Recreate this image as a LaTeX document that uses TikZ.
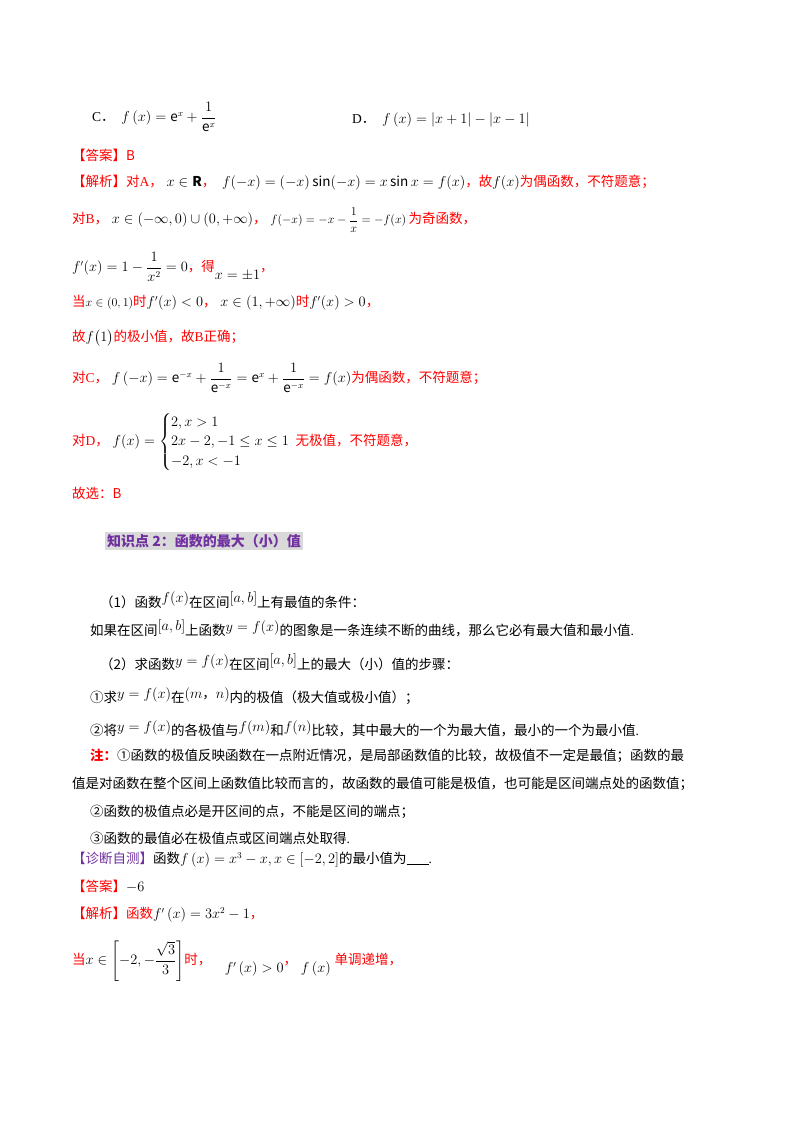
\documentclass[tikz,border=0pt]{standalone}
\usepackage{amsmath,amssymb}
\usepackage{fontspec}
\setmainfont{Noto Sans CJK SC}
\newfontfamily\lat{Liberation Serif}
\definecolor{rd}{HTML}{FF0000}
\definecolor{pp}{HTML}{7030A0}
\definecolor{hb}{HTML}{D9D9D9}
\newcommand{\sm}{\fontsize{12}{14}\selectfont}
\begin{document}
\begin{tikzpicture}[x=1pt,y=-1pt,
  t/.style={anchor=west,inner sep=0pt,font=\fontsize{13.5}{16}\selectfont},
  r/.style={t,text=rd}]
\useasboundingbox[fill=white] (0,0) rectangle (800,1132);
\node[t] (c) at (92,117) {{\lat C}．\; $f\left(x\right)=\mathrm{e}^{x}+\dfrac{1}{\mathrm{e}^{x}}$};
\node[t] (d) at (352,120) {{\lat D}．\; $f\left(x\right)=\left|x+1\right|-\left|x-1\right|$};
\node[r] (ans) at (72,155) {【答案】B};
\node[r] (jx) at (72,183) {【解析】对{\lat A}，\;\textcolor{black}{$x\in\mathbf{R}$}，\; \textcolor{black}{$f(-x)=(-x)\sin(-x)=x\sin x=f(x)$}，故\textcolor{black}{$f(x)$}为偶函数，不符题意；};
\node[r] (b) at (72,220) {对{\lat B}，\;\textcolor{black}{$x\in(-\infty,0)\cup(0,+\infty)$}，\;\textcolor{black}{\sm$f(-x)=-x-\dfrac{1}{x}=-f(x)$}\,为奇函数，};
\node[r] (b2) at (72,267) {\textcolor{black}{$f'(x)=1-\dfrac{1}{x^2}=0$}，得\raisebox{-8pt}{\textcolor{black}{$x=\pm1$}}，};
\node[r] (b3) at (72,303) {当\textcolor{black}{\sm$x\in(0,1)$}时\textcolor{black}{$f'(x)<0$}，\;\textcolor{black}{$x\in(1,+\infty)$}时\textcolor{black}{$f'(x)>0$}，};
\node[r] (b4) at (72,338) {故\textcolor{black}{$f\big(1\big)$}的极小值，故{\lat B}正确；};
\node[r] (cc) at (72,378) {对{\lat C}，\;\textcolor{black}{$f\left(-x\right)=\mathrm{e}^{-x}+\dfrac{1}{\mathrm{e}^{-x}}=\mathrm{e}^{x}+\dfrac{1}{\mathrm{e}^{-x}}=f(x)$}为偶函数，不符题意；};
\node[r] (dd) at (72,442) {对{\lat D}，\;\textcolor{black}{$f(x)=\begin{cases}2,x>1\\2x-2,-1\le x\le1\\-2,x<-1\end{cases}$}\hspace{-8pt}无极值，不符题意，};
\node[r] (sel) at (72,493) {故选：B};
\node[anchor=west,fill=hb,inner sep=2pt,text=pp,font=\fontsize{14}{16}\selectfont\bfseries] (h) at (105,541) {知识点 2：函数的最大（小）值};
\node[t] (p1) at (100,600) {（1）函数\raisebox{5pt}{$f(x)$}在区间\raisebox{5pt}{$[a,b]$}上有最值的条件：};
\node[t] (p2) at (90,628) {如果在区间\raisebox{5pt}{$[a,b]$}上函数\raisebox{4pt}{$y=f(x)$}的图象是一条连续不断的曲线，那么它必有最大值和最小值{\lat .}};
\node[t] (p3) at (100,662) {（2）求函数\raisebox{4pt}{$y=f(x)$}在区间\raisebox{5pt}{$[a,b]$}上的最大（小）值的步骤：};
\node[t] (p4) at (90,696) {①求\raisebox{4pt}{$y=f(x)$}在\raisebox{4pt}{$(m\text{，}n)$}内的极值（极大值或极小值）；};
\node[t] (p5) at (90,729) {②将\raisebox{4pt}{$y=f(x)$}的各极值与\raisebox{4pt}{$f(m)$}和\raisebox{4pt}{$f(n)$}比较，其中最大的一个为最大值，最小的一个为最小值{\lat .}};
\node[t] (p6) at (90,756) {\textcolor{rd}{\bfseries 注：}①函数的极值反映函数在一点附近情况，是局部函数值的比较，故极值不一定是最值；函数的最};
\node[t] (p7) at (72,784) {值是对函数在整个区间上函数值比较而言的，故函数的最值可能是极值，也可能是区间端点处的函数值；};
\node[t] (p8) at (90,812) {②函数的极值点必是开区间的点，不能是区间的端点；};
\node[t] (p9) at (90,838) {③函数的最值必在极值点或区间端点处取得{\lat .}};
\node[t] (q) at (72,860) {\textcolor{pp}{【诊断自测】}函数$f\left(x\right)=x^3-x,x\in\left[-2,2\right]$的最小值为\rule[-1pt]{22pt}{0.6pt}{\lat .}};
\node[r] (qa) at (72,886) {【答案】\textcolor{black}{$-6$}};
\node[r] (qj) at (72,915) {【解析】函数\textcolor{black}{$f'\left(x\right)=3x^2-1$}，};
\node[r] (qd) at (72,961) {当\textcolor{black}{$x\in\left[-2,-\dfrac{\sqrt3}{3}\right]$}时，\quad\raisebox{-8pt}{\textcolor{black}{$f'\left(x\right)>0$}}，\;\raisebox{-8pt}{\textcolor{black}{$f\left(x\right)$}}\;单调递增，};
\end{tikzpicture}
\end{document}
